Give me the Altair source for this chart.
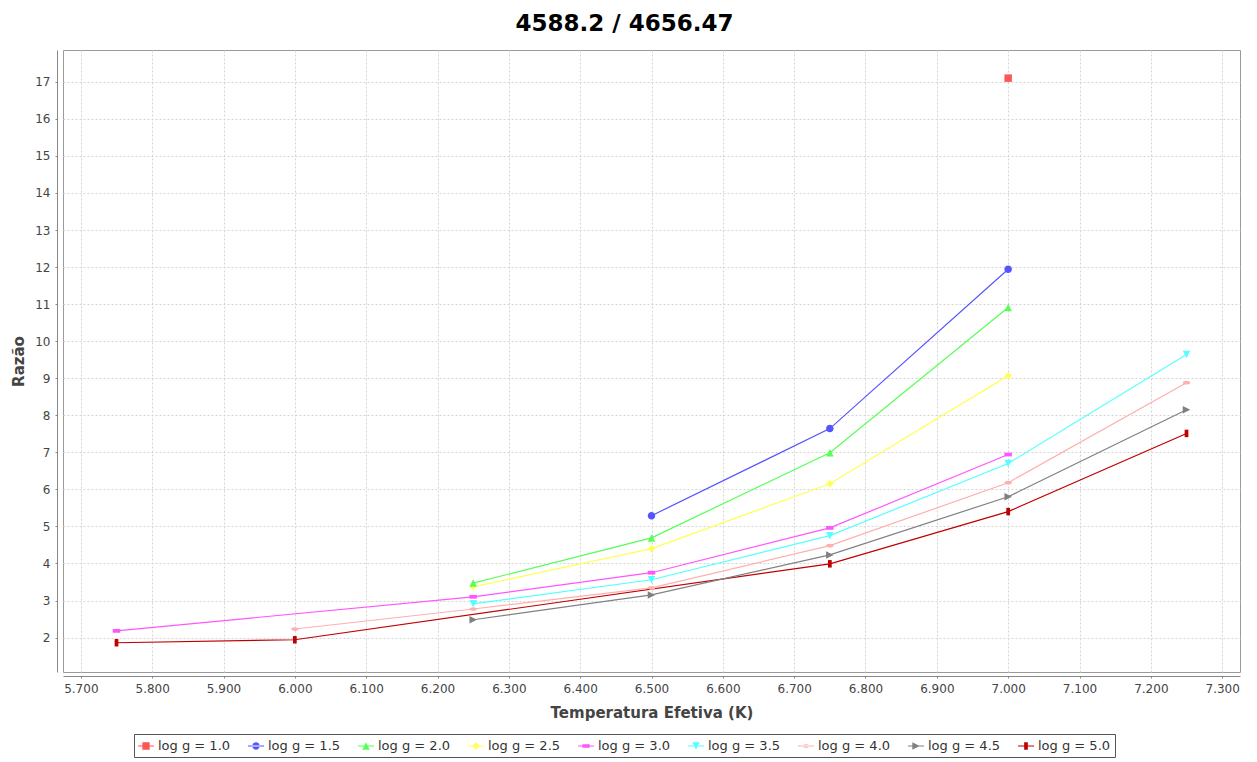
import altair as alt
import pandas as pd

# ---------------- data ----------------
series = ["log g = 1.0", "log g = 1.5", "log g = 2.0", "log g = 2.5", "log g = 3.0",
          "log g = 3.5", "log g = 4.0", "log g = 4.5", "log g = 5.0"]
colors = ["#FF5555", "#5555FF", "#55FF55", "#FFFF55", "#FF55FF",
          "#55FFFF", "#FFAFAF", "#808080", "#C00000"]

temp_10 = [7000]
ratio_10 = [17.1]
temp_15 = [6500, 6750, 7000]
ratio_15 = [5.29, 7.64, 11.94]
temp_20 = [6250, 6500, 6750, 7000]
ratio_20 = [3.47, 4.69, 6.99, 10.91]
temp_25 = [6250, 6500, 6750, 7000]
ratio_25 = [3.37, 4.40, 6.15, 9.07]
temp_30 = [5750, 6250, 6500, 6750, 7000]
ratio_30 = [2.18, 3.10, 3.75, 4.96, 6.94]
temp_35 = [6250, 6500, 6750, 7000, 7250]
ratio_35 = [2.91, 3.56, 4.75, 6.70, 9.64]
temp_40 = [6000, 6250, 6500, 6750, 7000, 7250]
ratio_40 = [2.23, 2.77, 3.34, 4.48, 6.18, 8.88]
temp_45 = [6250, 6500, 6750, 7000, 7250]
ratio_45 = [2.48, 3.15, 4.23, 5.80, 8.15]
temp_50 = [5750, 6000, 6750, 7000, 7250]
ratio_50 = [1.86, 1.94, 3.99, 5.40, 7.51]

x_ticks = list(range(5700, 7301, 100))
y_ticks = list(range(2, 18))

temps = [temp_10, temp_15, temp_20, temp_25, temp_30, temp_35, temp_40, temp_45, temp_50]
ratios = [ratio_10, ratio_15, ratio_20, ratio_25, ratio_30, ratio_35, ratio_40, ratio_45, ratio_50]

rows = []
# reverse order so that the first series is drawn on top (as in the original)
for name, ts, rs in reversed(list(zip(series, temps, ratios))):
    for t, r in zip(ts, rs):
        rows.append({"serie": name, "temp": t, "razao": r})
df = pd.DataFrame(rows)


# ---------------- marker shapes ----------------
def f(v):
    return f"{v:.3f}".rstrip("0").rstrip(".")


def shape_paths(s):
    h = s / 2
    return [
        f"M{f(-s)},{f(-s)}H{f(s)}V{f(s)}H{f(-s)}Z",  # square
        f"M{f(-s)},0A{f(s)},{f(s)},0,1,0,{f(s)},0A{f(s)},{f(s)},0,1,0,{f(-s)},0Z",  # circle
        f"M0,{f(-s)}L{f(s)},{f(s)}H{f(-s)}Z",  # triangle up
        f"M0,{f(-s)}L{f(s)},0L0,{f(s)}L{f(-s)},0Z",  # diamond
        f"M{f(-s)},{f(-h)}H{f(s)}V{f(h)}H{f(-s)}Z",  # horizontal rect
        f"M{f(-s)},{f(-s)}H{f(s)}L0,{f(s)}Z",  # triangle down
        f"M{f(-s)},0A{f(s)},{f(h)},0,1,0,{f(s)},0A{f(s)},{f(h)},0,1,0,{f(-s)},0Z",  # horizontal ellipse
        f"M{f(-s)},{f(-s)}L{f(s)},0L{f(-s)},{f(s)}Z",  # triangle right
        f"M{f(-h)},{f(-s)}H{f(h)}V{f(s)}H{f(-h)}Z",  # vertical rect
    ]


plot_shapes = shape_paths(1.0)
legend_line = "M-1,-0.07H1V0.07H-1Z"
legend_shapes = [legend_line + p for p in shape_paths(0.46)]

# ---------------- encodings ----------------
x_enc = alt.X(
    "temp:Q",
    scale=alt.Scale(domain=[5675, 7325], nice=False, zero=False),
    axis=alt.Axis(
        values=x_ticks,
        labelExpr="replace(format(datum.value, ',.0f'), ',', '.')",
        title="Temperatura Efetiva (K)",
        offset=4,
        labelPadding=5,
        titlePadding=11,
    ),
)
y_enc = alt.Y(
    "razao:Q",
    scale=alt.Scale(domain=[1.07, 17.86], nice=False, zero=False),
    axis=alt.Axis(values=y_ticks, title="Razão", offset=6, labelPadding=5, titlePadding=8),
)

color_scale = alt.Scale(domain=series, range=colors)

legend_cfg = dict(
    orient="none",
    legendX=71,
    legendY=684,
    direction="horizontal",
    columns=9,
    title=None,
    symbolSize=256,
    symbolStrokeWidth=0,
    symbolOpacity=1,
    labelFont="DejaVu Sans",
    labelFontSize=13,
    labelColor="#333333",
    labelOffset=4,
    columnPadding=17,
    strokeColor="#555555",
    fillColor="#ffffff",
    padding=4,
)

base = alt.Chart(df)

lines = base.mark_line(strokeWidth=1.2).encode(
    x=x_enc,
    y=y_enc,
    color=alt.Color("serie:N", scale=color_scale, legend=None),
)

points = base.mark_point(filled=True, size=56, opacity=1).encode(
    x=x_enc,
    y=y_enc,
    color=alt.Color("serie:N", scale=color_scale, legend=None),
    shape=alt.Shape("serie:N", scale=alt.Scale(domain=series, range=plot_shapes), legend=None),
)

legend_layer = base.transform_filter("false").mark_point(filled=True, opacity=1).encode(
    x=x_enc,
    y=y_enc,
    color=alt.Color("serie:N", scale=color_scale, legend=alt.Legend(**legend_cfg)),
    shape=alt.Shape("serie:N", scale=alt.Scale(domain=series, range=legend_shapes),
                    legend=alt.Legend(**legend_cfg)),
)

chart = (
    alt.layer(lines, points, legend_layer)
    .resolve_scale(color="independent", shape="independent")
    .resolve_legend(color="independent", shape="independent")
    .properties(
        width=1177,
        height=622,
        autosize=alt.AutoSizeParams(type="none"),
        padding={"left": 55, "top": 42, "right": 9, "bottom": 90},
        title=alt.TitleParams(
            "4588.2 / 4656.47",
            font="DejaVu Sans",
            fontSize=23,
            fontWeight="bold",
            color="#000000",
            anchor="middle",
            offset=14,
            dx=-27,
        ),
        background="#ffffff",
    )
    .configure_view(stroke="#9a9a9a", strokeWidth=1)
    .configure_axis(
        labelFont="DejaVu Sans",
        labelFontSize=12,
        labelColor="#444444",
        titleFont="DejaVu Sans",
        titleFontSize=15,
        titleFontWeight="bold",
        titleColor="#444444",
        domainColor="#888888",
        tickColor="#888888",
        tickSize=2,
        grid=True,
        gridColor="#d4d4d4",
        gridDash=[2, 2],
        gridWidth=1,
    )
)

chart.save("out.html", embed_options={"renderer": "svg", "actions": False})
